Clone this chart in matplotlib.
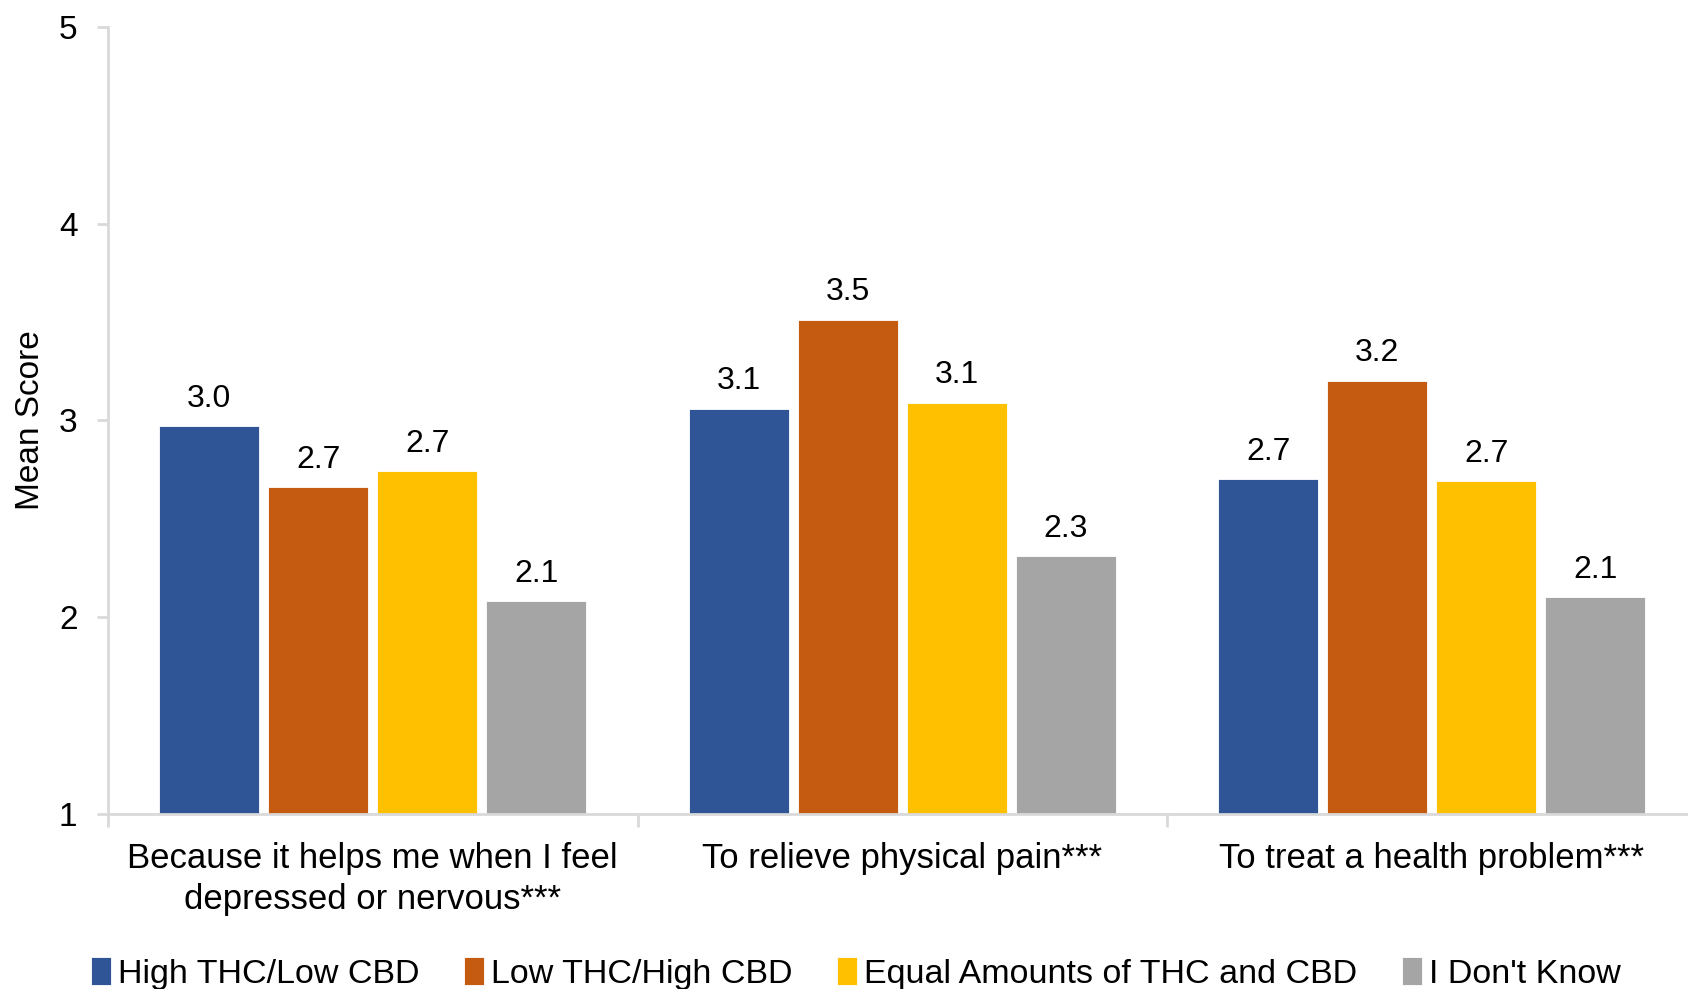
import matplotlib
matplotlib.use("Agg")
import matplotlib.pyplot as plt
import numpy as np

plt.rcParams['font.family'] = ['Liberation Sans', 'DejaVu Sans']

categories = ["Because it helps me when I feel\ndepressed or nervous***",
              "To relieve physical pain***",
              "To treat a health problem***"]
series_names = ["High THC/Low CBD", "Low THC/High CBD",
                "Equal Amounts of THC and CBD", "I Don't Know"]
high_thc = [2.97, 3.06, 2.70]
low_thc = [2.66, 3.51, 3.20]
equal = [2.74, 3.09, 2.69]
dont_know = [2.08, 2.31, 2.10]
series = [high_thc, low_thc, equal, dont_know]
colors = ["#2f5597", "#c55a11", "#ffc000", "#a5a5a5"]
yticks = [1, 2, 3, 4, 5]

fig = plt.figure(figsize=(16.88, 9.89), dpi=100)
ax = fig.add_axes([0.064, 0.177, 0.941, 0.796])

x = np.arange(len(categories))
step = 0.206
width = 0.189
handles = []
for i, (vals, c, name) in enumerate(zip(series, colors, series_names)):
    pos = x + (i - 1.5) * step
    b = ax.bar(pos, np.array(vals) - 1, width, bottom=1, color=c, label=name,
               edgecolor='white', linewidth=0.6)
    handles.append(b)
    for p, v in zip(pos, vals):
        ax.annotate(f"{v:.1f}", (p, v), xytext=(0, 9), textcoords='offset points',
                    ha='center', va='bottom', fontsize=23, color='#000000')

ax.set_ylim(1, 5)
ax.set_xlim(-0.5, 2.5)
ax.set_yticks(yticks)
ax.set_yticklabels([str(t) for t in yticks], fontsize=24)
ax.set_xticks(x)
ax.set_xticklabels(categories, fontsize=25, linespacing=1.3)
ax.tick_params(axis='x', length=0, pad=20)
ax.set_xticks([-0.5, 0.5, 1.5, 2.5], minor=True)
ax.tick_params(axis='x', which='minor', length=9, width=2, color='#d9d9d9')
ax.tick_params(axis='y', length=8, width=2, color='#d9d9d9', pad=14)
for s in ['top', 'right']:
    ax.spines[s].set_visible(False)
for s in ['left', 'bottom']:
    ax.spines[s].set_color('#d9d9d9')
    ax.spines[s].set_linewidth(2)
ax.set_ylabel("Mean Score", fontsize=24, labelpad=9)

leg = fig.legend(handles=handles, labels=series_names, loc='center',
                 bbox_to_anchor=(0.507, 0.016), ncol=4, frameon=False,
                 fontsize=24.5, handlelength=0.6, handleheight=0.9,
                 handletextpad=0.2, columnspacing=1.3, borderaxespad=0)

fig.savefig("out.png", dpi=100)
